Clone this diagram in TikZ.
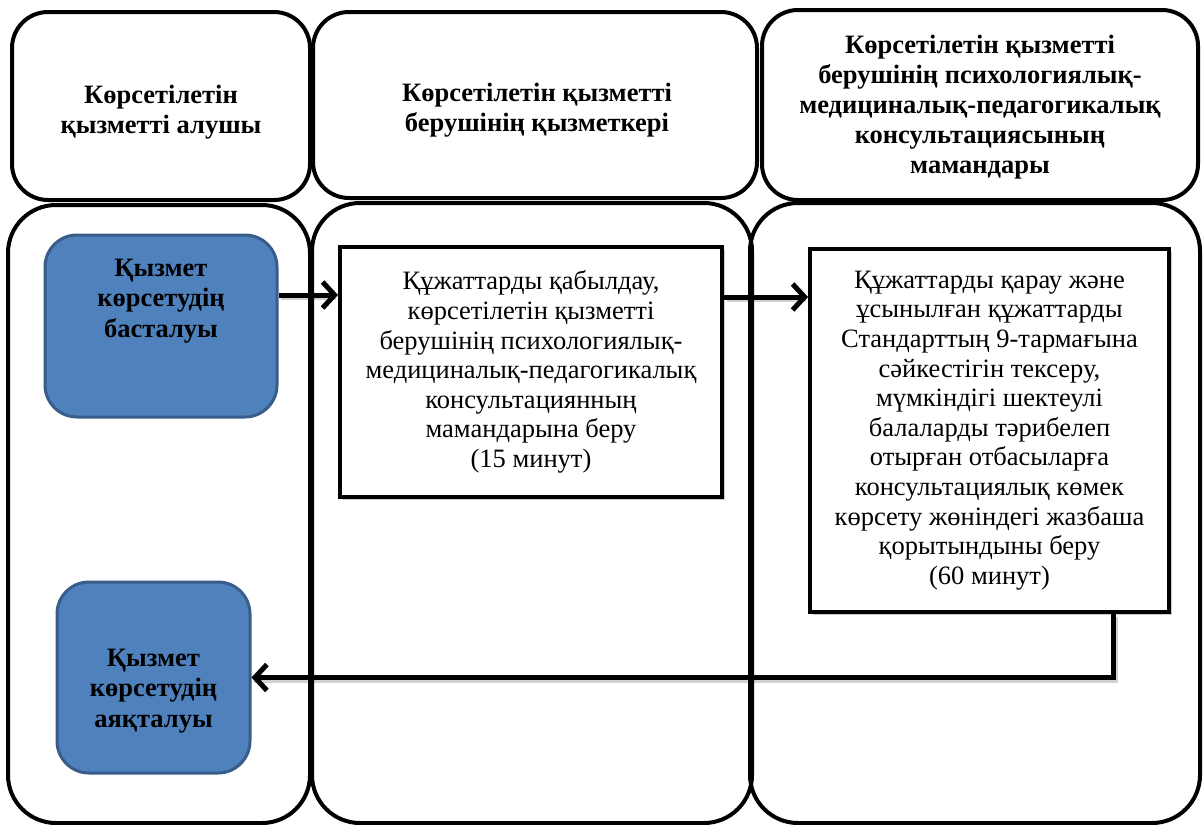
\documentclass[tikz,border=0pt]{standalone}
\usepackage{fontspec}
\setmainfont{Liberation Serif}
\usetikzlibrary{arrows.meta,shadows}
\definecolor{boxblue}{HTML}{4F81BD}
\definecolor{boxblueline}{HTML}{385D8A}
\begin{document}
\begin{tikzpicture}[x=1pt,y=-1pt,
  lane/.style={draw=black, line width=4pt, rounded corners=48pt, inner sep=0pt},
  head/.style={draw=black, line width=4pt, rounded corners=36pt, inner sep=0pt},
  htxt/.style={align=center, inner sep=0pt, font=\bfseries\fontsize{26.5}{30}\selectfont},
  bluebox/.style={draw=boxblueline, line width=3pt, fill=boxblue, rounded corners=32pt, inner sep=0pt},
  btxt/.style={align=center, inner sep=0pt, font=\bfseries\fontsize{26.5}{30.5}\selectfont},
  stepbox/.style={draw=black, line width=4pt, fill=white, inner sep=0pt, align=center,
    font=\fontsize{26.5}{29.6}\selectfont,
    drop shadow={shadow xshift=2.5pt, shadow yshift=-2.5pt, fill=black, opacity=0.2}},
  arr/.style={line width=5pt, -{Straight Barb[length=12pt,width=26pt]}},
  arrshadow/.style={line width=5pt, draw=black, opacity=0.18},
]
\useasboundingbox (0,0) rectangle (1203,825);
\fill[white] (0,0) rectangle (1203,825);

% lanes
\node[lane, minimum width=302pt, minimum height=618pt] (lane1) at (159,514) {};
\node[lane, minimum width=440pt, minimum height=620pt] (lane2) at (532,513) {};
\node[lane, minimum width=450pt, minimum height=620pt] (lane3) at (975,513) {};

% headers
\node[head, minimum width=298pt, minimum height=188pt] (h1) at (161,106) {};
\node[htxt] at (161,112) {Көрсетілетін\\қызметті алушы};
\node[head, minimum width=444pt, minimum height=186pt] (h2) at (535,105) {};
\node[htxt] at (537,110) {Көрсетілетін қызметті\\берушінің қызметкері};
\node[head, minimum width=436pt, minimum height=190pt] (h3) at (980,105) {};
\node[htxt] at (980,107) {Көрсетілетін қызметті\\берушінің психологиялық-\\медициналық-педагогикалық\\консультациясының\\мамандары};

% blue boxes
\node[bluebox, minimum width=232pt, minimum height=182pt] (start) at (161,326) {};
\node[btxt] (starttxt) at (161,301) {Қызмет\\көрсетудің\\басталуы};
\node[bluebox, minimum width=193pt, minimum height=191pt] (endb) at (153.5,677.5) {};
\node[btxt] (endtxt) at (153.5,691) {Қызмет\\көрсетудің\\аяқталуы};

% process boxes
\node[stepbox, minimum width=382pt, minimum height=250pt] (box2) at (531,372)
  {Құжаттарды қабылдау,\\көрсетілетін қызметті\\берушінің психологиялық-\\медициналық-педагогикалық\\консультациянның\\мамандарына беру\\(15 минут)};
\node[stepbox, minimum width=359pt, minimum height=363pt] (box3) at (989.5,430.5)
  {Құжаттарды қарау және\\ұсынылған құжаттарды\\Стандарттың 9-тармағына\\сәйкестігін тексеру,\\мүмкіндігі шектеулі\\балаларды тәрибелеп\\отырған отбасыларға\\консультациялық көмек\\көрсету жөніндегі жазбаша\\қорытындыны беру\\(60 минут)};

% connectors
\coordinate (a1) at ([yshift=31pt]start.east);
\coordinate (a2) at ([yshift=75pt]box2.east);
\coordinate (a3) at ([xshift=123.5pt]box3.south);
\draw[arrshadow] ([shift={(2.5pt,-2.5pt)}]a1) -- ([shift={(-2pt,-2.5pt)}]a1 -| box2.west);
\draw[arrshadow] ([shift={(2.5pt,-2.5pt)}]a2) -- ([shift={(-2pt,-2.5pt)}]a2 -| box3.west);
\draw[arrshadow] ([shift={(2.5pt,-2.5pt)}]a3) |- ([shift={(2.5pt,-2.5pt)}]endb.east);
\draw[arr] (a1) -- (a1 -| box2.west);
\draw[arr] (a2) -- (a2 -| box3.west);
\draw[arr] (a3) |- (endb.east);
\end{tikzpicture}
\end{document}
